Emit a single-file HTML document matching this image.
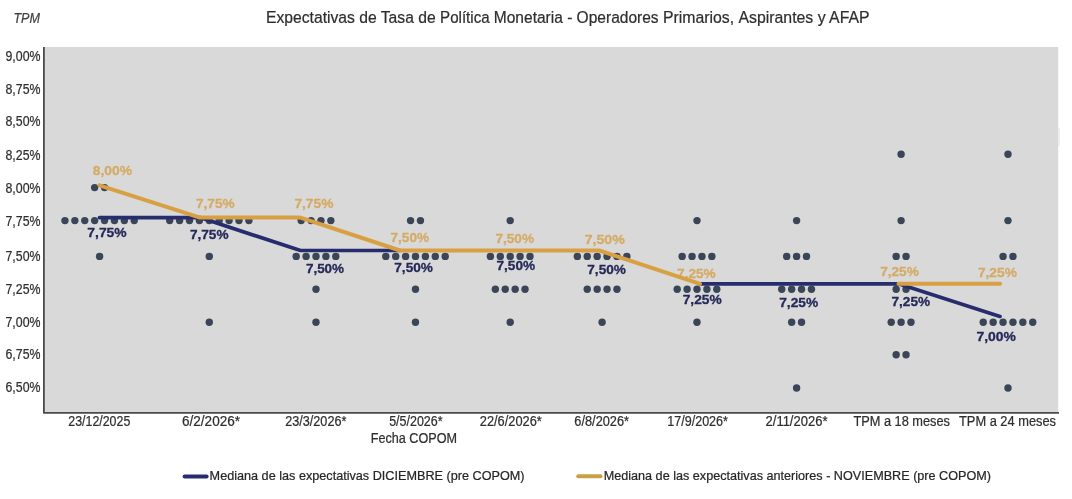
<!DOCTYPE html><html><head><meta charset="utf-8"><title>TPM</title><style>
html,body{margin:0;padding:0;background:#fff;}
body{width:1072px;height:499px;overflow:hidden;font-family:"Liberation Sans",sans-serif;}
svg{display:block;will-change:transform;} text{font-family:"Liberation Sans",sans-serif;} .r{stroke:currentColor;stroke-width:0.22px;}
</style></head><body>
<svg width="1072" height="499" viewBox="0 0 1072 499">
<rect x="0" y="0" width="1072" height="499" fill="#ffffff"/>
<rect x="43.90" y="47.00" width="1014.30" height="365.90" fill="#D9D9D9"/>
<rect x="1058.3" y="128" width="1.4" height="18.5" fill="#e9e9e9"/>
<path d="M43.90 47.00 V412.90 H1059.00" fill="none" stroke="#4a4a4a" stroke-width="1.8" stroke-linejoin="round"/>
<text class="r" color="#2e2e2e" x="266.00" y="22.8" font-size="16.8" fill="#2e2e2e" textLength="169.70" lengthAdjust="spacingAndGlyphs">Expectativas de Tasa de</text>
<text class="r" color="#2e2e2e" x="440.10" y="22.8" font-size="16.8" fill="#2e2e2e" textLength="49.50" lengthAdjust="spacingAndGlyphs">Política</text>
<text class="r" color="#2e2e2e" x="493.80" y="22.8" font-size="16.8" fill="#2e2e2e" textLength="164.80" lengthAdjust="spacingAndGlyphs">Monetaria - Operadores</text>
<text class="r" color="#2e2e2e" x="662.90" y="22.8" font-size="16.8" fill="#2e2e2e" textLength="71.20" lengthAdjust="spacingAndGlyphs">Primarios,</text>
<text class="r" color="#2e2e2e" x="738.50" y="22.8" font-size="16.8" fill="#2e2e2e" textLength="131.10" lengthAdjust="spacingAndGlyphs">Aspirantes y AFAP</text>
<text class="r" color="#404040" x="13.4" y="22.9" font-size="13.8" font-style="italic" fill="#404040" textLength="26.6" lengthAdjust="spacingAndGlyphs">TPM</text>
<text class="r" color="#2e2e2e" x="40.50" y="60.70" font-size="13.8" fill="#2e2e2e" text-anchor="end" textLength="35.0" lengthAdjust="spacingAndGlyphs">9,00%</text>
<text class="r" color="#2e2e2e" x="40.50" y="93.70" font-size="13.8" fill="#2e2e2e" text-anchor="end" textLength="35.0" lengthAdjust="spacingAndGlyphs">8,75%</text>
<text class="r" color="#2e2e2e" x="40.50" y="126.40" font-size="13.8" fill="#2e2e2e" text-anchor="end" textLength="35.0" lengthAdjust="spacingAndGlyphs">8,50%</text>
<text class="r" color="#2e2e2e" x="40.50" y="159.50" font-size="13.8" fill="#2e2e2e" text-anchor="end" textLength="35.0" lengthAdjust="spacingAndGlyphs">8,25%</text>
<text class="r" color="#2e2e2e" x="40.50" y="193.10" font-size="13.8" fill="#2e2e2e" text-anchor="end" textLength="35.0" lengthAdjust="spacingAndGlyphs">8,00%</text>
<text class="r" color="#2e2e2e" x="40.50" y="226.20" font-size="13.8" fill="#2e2e2e" text-anchor="end" textLength="35.0" lengthAdjust="spacingAndGlyphs">7,75%</text>
<text class="r" color="#2e2e2e" x="40.50" y="261.10" font-size="13.8" fill="#2e2e2e" text-anchor="end" textLength="35.0" lengthAdjust="spacingAndGlyphs">7,50%</text>
<text class="r" color="#2e2e2e" x="40.50" y="294.10" font-size="13.8" fill="#2e2e2e" text-anchor="end" textLength="35.0" lengthAdjust="spacingAndGlyphs">7,25%</text>
<text class="r" color="#2e2e2e" x="40.50" y="327.10" font-size="13.8" fill="#2e2e2e" text-anchor="end" textLength="35.0" lengthAdjust="spacingAndGlyphs">7,00%</text>
<text class="r" color="#2e2e2e" x="40.50" y="359.40" font-size="13.8" fill="#2e2e2e" text-anchor="end" textLength="35.0" lengthAdjust="spacingAndGlyphs">6,75%</text>
<text class="r" color="#2e2e2e" x="40.50" y="392.40" font-size="13.8" fill="#2e2e2e" text-anchor="end" textLength="35.0" lengthAdjust="spacingAndGlyphs">6,50%</text>
<text class="r" color="#2e2e2e" x="68.30" y="425.80" font-size="13.8" fill="#2e2e2e" textLength="62.0" lengthAdjust="spacingAndGlyphs">23/12/2025</text>
<text class="r" color="#2e2e2e" x="182.00" y="425.80" font-size="13.8" fill="#2e2e2e" textLength="58.0" lengthAdjust="spacingAndGlyphs">6/2/2026*</text>
<text class="r" color="#2e2e2e" x="285.20" y="425.80" font-size="13.8" fill="#2e2e2e" textLength="61.2" lengthAdjust="spacingAndGlyphs">23/3/2026*</text>
<text class="r" color="#2e2e2e" x="389.20" y="425.80" font-size="13.8" fill="#2e2e2e" textLength="53.4" lengthAdjust="spacingAndGlyphs">5/5/2026*</text>
<text class="r" color="#2e2e2e" x="479.80" y="425.80" font-size="13.8" fill="#2e2e2e" textLength="62.0" lengthAdjust="spacingAndGlyphs">22/6/2026*</text>
<text class="r" color="#2e2e2e" x="574.35" y="425.80" font-size="13.8" fill="#2e2e2e" textLength="54.7" lengthAdjust="spacingAndGlyphs">6/8/2026*</text>
<text class="r" color="#2e2e2e" x="667.20" y="425.80" font-size="13.8" fill="#2e2e2e" textLength="60.8" lengthAdjust="spacingAndGlyphs">17/9/2026*</text>
<text class="r" color="#2e2e2e" x="765.55" y="425.80" font-size="13.8" fill="#2e2e2e" textLength="61.9" lengthAdjust="spacingAndGlyphs">2/11/2026*</text>
<text class="r" color="#2e2e2e" x="853.40" y="425.80" font-size="13.8" fill="#2e2e2e" textLength="96.6" lengthAdjust="spacingAndGlyphs">TPM a 18 meses</text>
<text class="r" color="#2e2e2e" x="959.00" y="425.80" font-size="13.8" fill="#2e2e2e" textLength="97.0" lengthAdjust="spacingAndGlyphs">TPM a 24 meses</text>
<text class="r" color="#2e2e2e" x="370.8" y="442.8" font-size="13.8" fill="#2e2e2e" textLength="86.2" lengthAdjust="spacingAndGlyphs">Fecha COPOM</text>
<circle cx="94.65" cy="187.60" r="3.70" fill="#3A4657"/>
<circle cx="104.55" cy="187.60" r="3.70" fill="#3A4657"/>
<circle cx="64.95" cy="220.60" r="3.70" fill="#3A4657"/>
<circle cx="74.85" cy="220.60" r="3.70" fill="#3A4657"/>
<circle cx="84.75" cy="220.60" r="3.70" fill="#3A4657"/>
<circle cx="94.65" cy="220.60" r="3.70" fill="#3A4657"/>
<circle cx="104.55" cy="220.60" r="3.70" fill="#3A4657"/>
<circle cx="114.45" cy="220.60" r="3.70" fill="#3A4657"/>
<circle cx="124.35" cy="220.60" r="3.70" fill="#3A4657"/>
<circle cx="134.25" cy="220.60" r="3.70" fill="#3A4657"/>
<circle cx="99.60" cy="256.40" r="3.70" fill="#3A4657"/>
<circle cx="169.70" cy="220.60" r="3.70" fill="#3A4657"/>
<circle cx="179.60" cy="220.60" r="3.70" fill="#3A4657"/>
<circle cx="189.50" cy="220.60" r="3.70" fill="#3A4657"/>
<circle cx="199.40" cy="220.60" r="3.70" fill="#3A4657"/>
<circle cx="209.30" cy="220.60" r="3.70" fill="#3A4657"/>
<circle cx="219.20" cy="220.60" r="3.70" fill="#3A4657"/>
<circle cx="229.10" cy="220.60" r="3.70" fill="#3A4657"/>
<circle cx="239.00" cy="220.60" r="3.70" fill="#3A4657"/>
<circle cx="248.90" cy="220.60" r="3.70" fill="#3A4657"/>
<circle cx="209.30" cy="256.40" r="3.70" fill="#3A4657"/>
<circle cx="209.30" cy="322.30" r="3.70" fill="#3A4657"/>
<circle cx="301.15" cy="220.60" r="3.70" fill="#3A4657"/>
<circle cx="311.05" cy="220.60" r="3.70" fill="#3A4657"/>
<circle cx="320.95" cy="220.60" r="3.70" fill="#3A4657"/>
<circle cx="330.85" cy="220.60" r="3.70" fill="#3A4657"/>
<circle cx="296.20" cy="256.40" r="3.70" fill="#3A4657"/>
<circle cx="306.10" cy="256.40" r="3.70" fill="#3A4657"/>
<circle cx="316.00" cy="256.40" r="3.70" fill="#3A4657"/>
<circle cx="325.90" cy="256.40" r="3.70" fill="#3A4657"/>
<circle cx="335.80" cy="256.40" r="3.70" fill="#3A4657"/>
<circle cx="316.00" cy="289.20" r="3.70" fill="#3A4657"/>
<circle cx="316.00" cy="322.30" r="3.70" fill="#3A4657"/>
<circle cx="410.55" cy="220.60" r="3.70" fill="#3A4657"/>
<circle cx="420.45" cy="220.60" r="3.70" fill="#3A4657"/>
<circle cx="385.80" cy="256.40" r="3.70" fill="#3A4657"/>
<circle cx="395.70" cy="256.40" r="3.70" fill="#3A4657"/>
<circle cx="405.60" cy="256.40" r="3.70" fill="#3A4657"/>
<circle cx="415.50" cy="256.40" r="3.70" fill="#3A4657"/>
<circle cx="425.40" cy="256.40" r="3.70" fill="#3A4657"/>
<circle cx="435.30" cy="256.40" r="3.70" fill="#3A4657"/>
<circle cx="445.20" cy="256.40" r="3.70" fill="#3A4657"/>
<circle cx="415.50" cy="289.20" r="3.70" fill="#3A4657"/>
<circle cx="415.50" cy="322.30" r="3.70" fill="#3A4657"/>
<circle cx="510.20" cy="220.60" r="3.70" fill="#3A4657"/>
<circle cx="490.40" cy="256.40" r="3.70" fill="#3A4657"/>
<circle cx="500.30" cy="256.40" r="3.70" fill="#3A4657"/>
<circle cx="510.20" cy="256.40" r="3.70" fill="#3A4657"/>
<circle cx="520.10" cy="256.40" r="3.70" fill="#3A4657"/>
<circle cx="530.00" cy="256.40" r="3.70" fill="#3A4657"/>
<circle cx="495.35" cy="289.20" r="3.70" fill="#3A4657"/>
<circle cx="505.25" cy="289.20" r="3.70" fill="#3A4657"/>
<circle cx="515.15" cy="289.20" r="3.70" fill="#3A4657"/>
<circle cx="525.05" cy="289.20" r="3.70" fill="#3A4657"/>
<circle cx="510.20" cy="322.30" r="3.70" fill="#3A4657"/>
<circle cx="577.35" cy="256.40" r="3.70" fill="#3A4657"/>
<circle cx="587.25" cy="256.40" r="3.70" fill="#3A4657"/>
<circle cx="597.15" cy="256.40" r="3.70" fill="#3A4657"/>
<circle cx="607.05" cy="256.40" r="3.70" fill="#3A4657"/>
<circle cx="616.95" cy="256.40" r="3.70" fill="#3A4657"/>
<circle cx="626.85" cy="256.40" r="3.70" fill="#3A4657"/>
<circle cx="587.25" cy="289.20" r="3.70" fill="#3A4657"/>
<circle cx="597.15" cy="289.20" r="3.70" fill="#3A4657"/>
<circle cx="607.05" cy="289.20" r="3.70" fill="#3A4657"/>
<circle cx="616.95" cy="289.20" r="3.70" fill="#3A4657"/>
<circle cx="602.10" cy="322.30" r="3.70" fill="#3A4657"/>
<circle cx="697.00" cy="220.60" r="3.70" fill="#3A4657"/>
<circle cx="682.15" cy="256.40" r="3.70" fill="#3A4657"/>
<circle cx="692.05" cy="256.40" r="3.70" fill="#3A4657"/>
<circle cx="701.95" cy="256.40" r="3.70" fill="#3A4657"/>
<circle cx="711.85" cy="256.40" r="3.70" fill="#3A4657"/>
<circle cx="677.20" cy="289.20" r="3.70" fill="#3A4657"/>
<circle cx="687.10" cy="289.20" r="3.70" fill="#3A4657"/>
<circle cx="697.00" cy="289.20" r="3.70" fill="#3A4657"/>
<circle cx="706.90" cy="289.20" r="3.70" fill="#3A4657"/>
<circle cx="716.80" cy="289.20" r="3.70" fill="#3A4657"/>
<circle cx="697.00" cy="322.30" r="3.70" fill="#3A4657"/>
<circle cx="796.60" cy="220.60" r="3.70" fill="#3A4657"/>
<circle cx="786.70" cy="256.40" r="3.70" fill="#3A4657"/>
<circle cx="796.60" cy="256.40" r="3.70" fill="#3A4657"/>
<circle cx="806.50" cy="256.40" r="3.70" fill="#3A4657"/>
<circle cx="781.75" cy="289.20" r="3.70" fill="#3A4657"/>
<circle cx="791.65" cy="289.20" r="3.70" fill="#3A4657"/>
<circle cx="801.55" cy="289.20" r="3.70" fill="#3A4657"/>
<circle cx="811.45" cy="289.20" r="3.70" fill="#3A4657"/>
<circle cx="791.65" cy="322.30" r="3.70" fill="#3A4657"/>
<circle cx="801.55" cy="322.30" r="3.70" fill="#3A4657"/>
<circle cx="796.60" cy="388.00" r="3.70" fill="#3A4657"/>
<circle cx="901.10" cy="154.20" r="3.70" fill="#3A4657"/>
<circle cx="901.10" cy="220.60" r="3.70" fill="#3A4657"/>
<circle cx="896.15" cy="256.40" r="3.70" fill="#3A4657"/>
<circle cx="906.05" cy="256.40" r="3.70" fill="#3A4657"/>
<circle cx="896.15" cy="289.20" r="3.70" fill="#3A4657"/>
<circle cx="906.05" cy="289.20" r="3.70" fill="#3A4657"/>
<circle cx="891.20" cy="322.30" r="3.70" fill="#3A4657"/>
<circle cx="901.10" cy="322.30" r="3.70" fill="#3A4657"/>
<circle cx="911.00" cy="322.30" r="3.70" fill="#3A4657"/>
<circle cx="896.15" cy="354.80" r="3.70" fill="#3A4657"/>
<circle cx="906.05" cy="354.80" r="3.70" fill="#3A4657"/>
<circle cx="1008.00" cy="154.20" r="3.70" fill="#3A4657"/>
<circle cx="1008.00" cy="220.60" r="3.70" fill="#3A4657"/>
<circle cx="1003.05" cy="256.40" r="3.70" fill="#3A4657"/>
<circle cx="1012.95" cy="256.40" r="3.70" fill="#3A4657"/>
<circle cx="983.25" cy="322.30" r="3.70" fill="#3A4657"/>
<circle cx="993.15" cy="322.30" r="3.70" fill="#3A4657"/>
<circle cx="1003.05" cy="322.30" r="3.70" fill="#3A4657"/>
<circle cx="1012.95" cy="322.30" r="3.70" fill="#3A4657"/>
<circle cx="1022.85" cy="322.30" r="3.70" fill="#3A4657"/>
<circle cx="1032.75" cy="322.30" r="3.70" fill="#3A4657"/>
<circle cx="1008.00" cy="388.00" r="3.70" fill="#3A4657"/>
<text x="92.80" y="175.00" font-size="13.6" font-weight="bold" fill="#D5AB66" stroke="#D5AB66" stroke-width="0.3" textLength="39.2" lengthAdjust="spacingAndGlyphs">8,00%</text>
<text x="196.00" y="208.30" font-size="13.6" font-weight="bold" fill="#D5AB66" stroke="#D5AB66" stroke-width="0.3" textLength="38.6" lengthAdjust="spacingAndGlyphs">7,75%</text>
<text x="294.40" y="208.40" font-size="13.6" font-weight="bold" fill="#D5AB66" stroke="#D5AB66" stroke-width="0.3" textLength="39.0" lengthAdjust="spacingAndGlyphs">7,75%</text>
<text x="390.50" y="242.40" font-size="13.6" font-weight="bold" fill="#D5AB66" stroke="#D5AB66" stroke-width="0.3" textLength="38.6" lengthAdjust="spacingAndGlyphs">7,50%</text>
<text x="495.40" y="242.60" font-size="13.6" font-weight="bold" fill="#D5AB66" stroke="#D5AB66" stroke-width="0.3" textLength="38.6" lengthAdjust="spacingAndGlyphs">7,50%</text>
<text x="584.70" y="244.00" font-size="13.6" font-weight="bold" fill="#D5AB66" stroke="#D5AB66" stroke-width="0.3" textLength="40.0" lengthAdjust="spacingAndGlyphs">7,50%</text>
<text x="677.10" y="278.40" font-size="13.6" font-weight="bold" fill="#D5AB66" stroke="#D5AB66" stroke-width="0.3" textLength="38.6" lengthAdjust="spacingAndGlyphs">7,25%</text>
<text x="880.20" y="275.60" font-size="13.6" font-weight="bold" fill="#D5AB66" stroke="#D5AB66" stroke-width="0.3" textLength="38.6" lengthAdjust="spacingAndGlyphs">7,25%</text>
<text x="977.90" y="276.60" font-size="13.6" font-weight="bold" fill="#D5AB66" stroke="#D5AB66" stroke-width="0.3" textLength="39.0" lengthAdjust="spacingAndGlyphs">7,25%</text>
<text x="87.35" y="236.70" font-size="13.6" font-weight="bold" fill="#252958" stroke="#252958" stroke-width="0.3" textLength="39.3" lengthAdjust="spacingAndGlyphs">7,75%</text>
<text x="189.90" y="239.30" font-size="13.6" font-weight="bold" fill="#252958" stroke="#252958" stroke-width="0.3" textLength="38.6" lengthAdjust="spacingAndGlyphs">7,75%</text>
<text x="305.90" y="272.50" font-size="13.6" font-weight="bold" fill="#252958" stroke="#252958" stroke-width="0.3" textLength="38.2" lengthAdjust="spacingAndGlyphs">7,50%</text>
<text x="394.30" y="271.90" font-size="13.6" font-weight="bold" fill="#252958" stroke="#252958" stroke-width="0.3" textLength="38.6" lengthAdjust="spacingAndGlyphs">7,50%</text>
<text x="496.50" y="269.70" font-size="13.6" font-weight="bold" fill="#252958" stroke="#252958" stroke-width="0.3" textLength="38.6" lengthAdjust="spacingAndGlyphs">7,50%</text>
<text x="587.30" y="273.50" font-size="13.6" font-weight="bold" fill="#252958" stroke="#252958" stroke-width="0.3" textLength="38.6" lengthAdjust="spacingAndGlyphs">7,50%</text>
<text x="682.70" y="303.50" font-size="13.6" font-weight="bold" fill="#252958" stroke="#252958" stroke-width="0.3" textLength="39.0" lengthAdjust="spacingAndGlyphs">7,25%</text>
<text x="779.20" y="306.80" font-size="13.6" font-weight="bold" fill="#252958" stroke="#252958" stroke-width="0.3" textLength="39.0" lengthAdjust="spacingAndGlyphs">7,25%</text>
<text x="891.50" y="305.70" font-size="13.6" font-weight="bold" fill="#252958" stroke="#252958" stroke-width="0.3" textLength="38.6" lengthAdjust="spacingAndGlyphs">7,25%</text>
<text x="976.50" y="341.20" font-size="13.6" font-weight="bold" fill="#252958" stroke="#252958" stroke-width="0.3" textLength="39.4" lengthAdjust="spacingAndGlyphs">7,00%</text>
<polyline points="99.50,217.60 200.00,217.60 300.50,250.50 400.00,250.50" fill="none" stroke="#262C6E" stroke-width="3.70" stroke-linejoin="round" stroke-linecap="round"/>
<polyline points="700.00,283.80 799.50,283.80 898.50,283.80 1000.00,316.40" fill="none" stroke="#262C6E" stroke-width="3.70" stroke-linejoin="round" stroke-linecap="round"/>
<polyline points="99.50,185.30 200.00,217.60 300.50,217.60 400.00,250.50 500.00,250.50 599.30,250.50 700.00,283.80" fill="none" stroke="#D8A043" stroke-width="4.00" stroke-linejoin="round" stroke-linecap="round"/>
<polyline points="898.50,283.80 1000.00,283.80" fill="none" stroke="#D8A043" stroke-width="4.00" stroke-linejoin="round" stroke-linecap="round"/>
<line x1="184.6" y1="476.4" x2="206.6" y2="476.4" stroke="#262C6E" stroke-width="4" stroke-linecap="round"/>
<text class="r" color="#262626" x="209.6" y="480.1" font-size="13" fill="#262626" textLength="314.9" lengthAdjust="spacingAndGlyphs">Mediana de las expectativas DICIEMBRE (pre COPOM)</text>
<line x1="578.2" y1="476.2" x2="600.5" y2="476.2" stroke="#C9A045" stroke-width="4" stroke-linecap="round"/>
<text class="r" color="#262626" x="603.7" y="480.1" font-size="13" fill="#262626" textLength="387.3" lengthAdjust="spacingAndGlyphs">Mediana de las expectativas anteriores - NOVIEMBRE (pre COPOM)</text>
</svg></body></html>
